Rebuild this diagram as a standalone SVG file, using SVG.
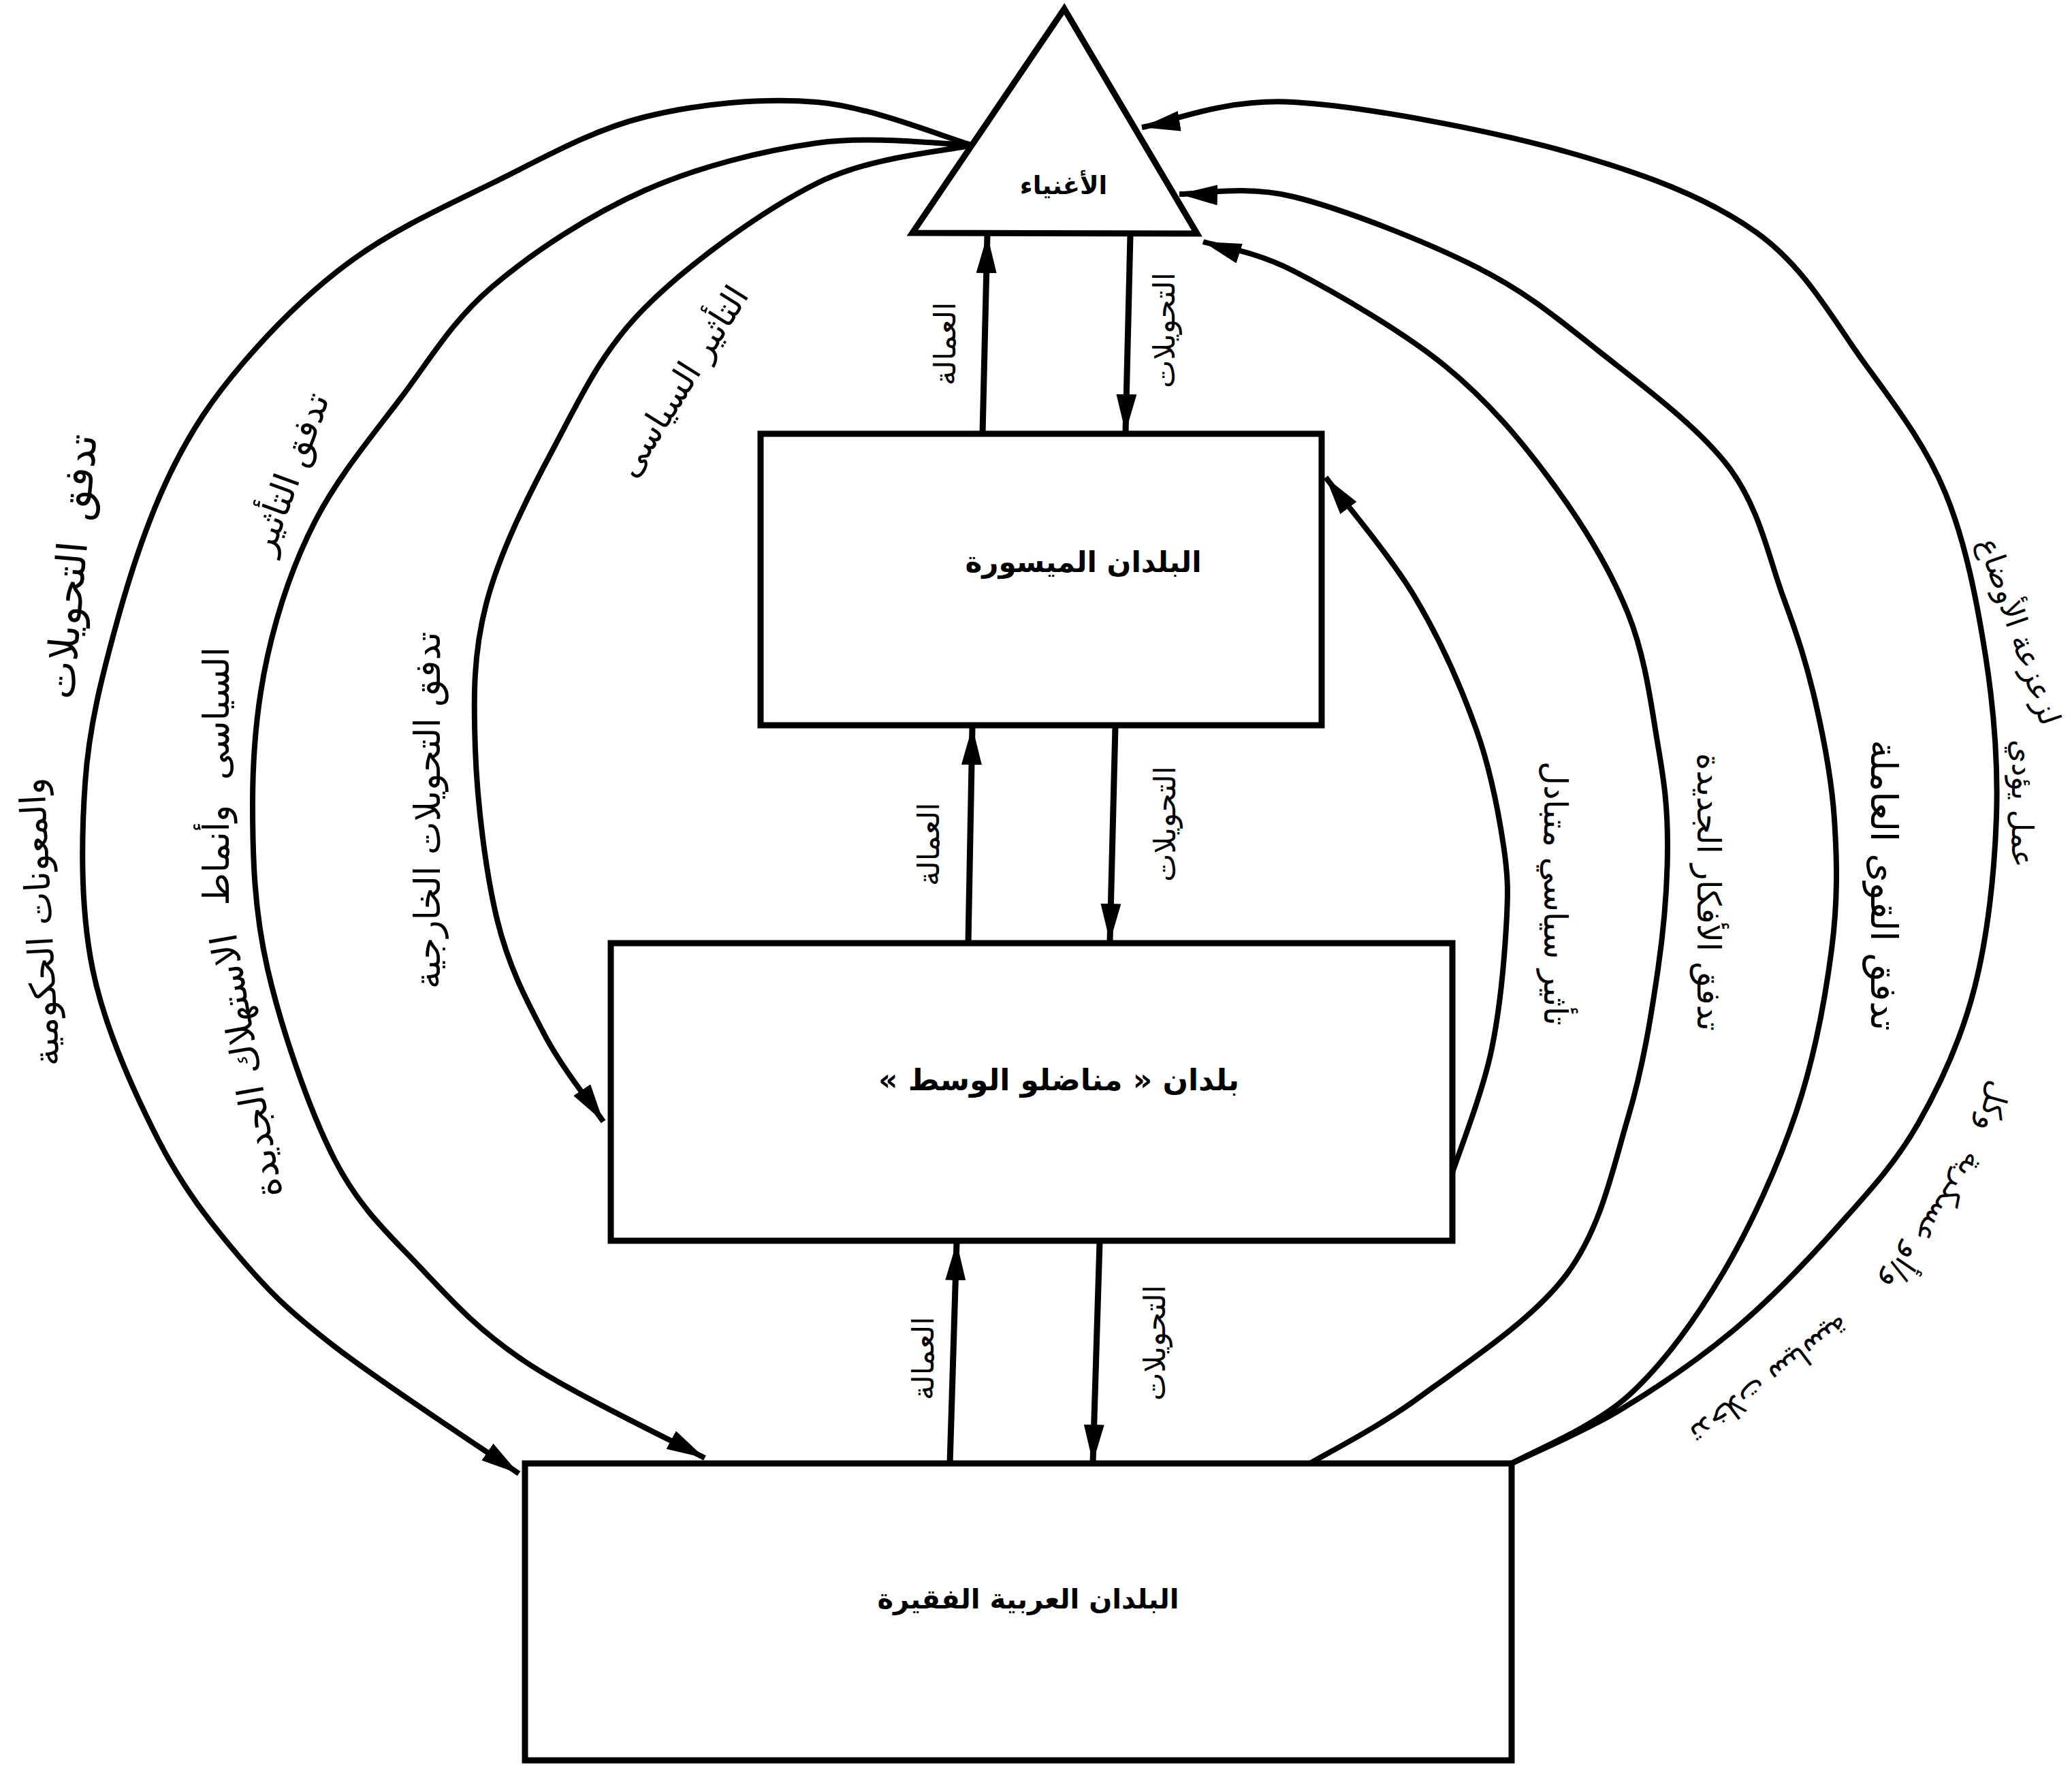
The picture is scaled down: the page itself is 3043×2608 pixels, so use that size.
<svg xmlns="http://www.w3.org/2000/svg" width="3043" height="2608" viewBox="0 0 3043 2608">
<defs>
<style>
.box{fill:#fff;stroke:#000;stroke-width:9;stroke-linejoin:miter}
.cur{fill:none;stroke:#000;stroke-width:8;stroke-linecap:butt}
.vl{fill:none;stroke:#000;stroke-width:9}
text{font-family:"DejaVu Sans",sans-serif;fill:#000;text-anchor:middle;dominant-baseline:central}
.nt{font-size:42px;font-weight:bold}
.lb{font-size:44px}
.cl{font-size:52px}
</style>
<marker id="ah" markerUnits="userSpaceOnUse" markerWidth="60" markerHeight="32" refX="56" refY="15" orient="auto">
<path d="M0,0 L56,15 L0,30 Z" fill="#000"/>
</marker>
</defs>
<rect width="3043" height="2608" fill="#fff"/>
<g id="connectors">
<path class="cur" marker-end="url(#ah)" d="M1427,213 C1389.2,202.5 1280.2,156.8 1200,150 C1119.8,143.2 1025.5,152.2 946,172 C866.5,191.8 794,234.3 723,269 C652,303.7 581,336 520,380 C459,424 402,480.5 357,533 C312,585.5 281,631.2 250,695 C219,758.8 191.8,840.2 171,916 C150.2,991.8 130.8,1065.5 125,1150 C119.2,1234.5 118.2,1335.8 136,1423 C153.8,1510.2 196.2,1602.7 232,1673 C267.8,1743.3 307.8,1794.3 351,1845 C394.2,1895.7 422.5,1923.8 491,1977 C559.5,2030.2 716.8,2132.8 762,2164"/>
<path class="cur" marker-end="url(#ah)" d="M1427,213 C1389.2,212.5 1280.2,198.8 1200,210 C1119.8,221.2 1025.5,244.8 946,280 C866.5,315.2 782.5,370.3 723,421 C663.5,471.7 632.2,527 589,584 C545.8,641 496.7,699.8 464,763 C431.3,826.2 408.5,893.5 393,963 C377.5,1032.5 371,1103.3 371,1180 C371,1256.7 373,1336 393,1423 C413,1510 453.5,1628.8 491,1702 C528.5,1775.2 571.2,1812.3 618,1862 C664.8,1911.7 702.5,1953.5 772,2000 C841.5,2046.5 991.2,2117.5 1035,2141"/>
<path class="cur" marker-end="url(#ah)" d="M1427,213 C1389.2,222.3 1280.2,229 1200,269 C1119.8,309 1010.7,387.8 946,453 C881.3,518.2 850.7,587.7 812,660 C773.3,732.3 733,813.7 714,887 C695,960.3 695.3,1022.8 698,1100 C700.7,1177.2 713,1280 730,1350 C747,1420 774,1470.5 800,1520 C826,1569.5 871.7,1625.8 886,1647"/>
<path class="cur" marker-end="url(#ah)" d="M2220,2149 C2246.7,2135.8 2325,2103.2 2380,2070 C2435,2036.8 2496.7,1995 2550,1950 C2603.3,1905 2655.5,1850 2700,1800 C2744.5,1750 2783.7,1708.3 2817,1650 C2850.3,1591.7 2880.8,1525 2900,1450 C2919.2,1375 2929.3,1281.2 2932,1200 C2934.7,1118.8 2928.5,1042.3 2916,963 C2903.5,883.7 2886.7,795.7 2857,724 C2827.3,652.3 2784.3,596.8 2738,533 C2691.7,469.2 2651.8,392.7 2579,341 C2506.2,289.3 2414.2,254.8 2301,223 C2187.8,191.2 2004,156 1900,150 C1796,144 1714.2,180.8 1677,187"/>
<path class="cur" marker-end="url(#ah)" d="M2220,2149 C2248.5,2132.5 2339.3,2096.5 2391,2050 C2442.7,2003.5 2488.8,1939.5 2530,1870 C2571.2,1800.5 2611.3,1712.3 2638,1633 C2664.7,1553.7 2680.7,1465.7 2690,1394 C2699.3,1322.3 2698,1263.7 2694,1203 C2690,1142.3 2678.5,1084.3 2666,1030 C2653.5,975.7 2640.2,934.3 2619,877 C2597.8,819.7 2584.5,746.5 2539,686 C2493.5,625.5 2407.8,563 2346,514 C2284.2,465 2242.3,429.5 2168,392 C2093.7,354.5 1972.7,306.8 1900,289 C1827.3,271.2 1760,285.7 1732,285"/>
<path class="cur" marker-end="url(#ah)" d="M1924,2149 C1951.2,2132.5 2024.2,2096.3 2087,2050 C2149.8,2003.7 2250.3,1939.2 2301,1871 C2351.7,1802.8 2368.7,1715.7 2391,1641 C2413.3,1566.3 2425.3,1489.7 2435,1423 C2444.7,1356.3 2449,1295.7 2449,1241 C2449,1186.3 2444.7,1151.7 2435,1095 C2425.3,1038.3 2417,965.5 2391,901 C2365,836.5 2323.7,768.5 2279,708 C2234.3,647.5 2186.2,589.7 2123,538 C2059.8,486.3 1959.3,428.5 1900,398 C1840.7,367.5 1789.2,362.2 1767,355"/>
<path class="cur" marker-end="url(#ah)" d="M2132,1725 C2141.7,1695 2176.7,1606.7 2190,1544 C2203.3,1481.3 2209,1412.5 2212,1362 C2215,1311.5 2215.3,1289.5 2208,1241 C2200.7,1192.5 2189.7,1131.7 2168,1071 C2146.3,1010.3 2114.8,938.7 2078,877 C2041.2,815.3 1968.8,730.3 1947,701"/>
<path class="vl" marker-end="url(#ah)" d="M1443,637 L1450,345"/>
<path class="vl" marker-end="url(#ah)" d="M1660,345 L1653,635"/>
<path class="vl" marker-end="url(#ah)" d="M1422,1385 L1428,1067"/>
<path class="vl" marker-end="url(#ah)" d="M1638,1067 L1630,1383"/>
<path class="vl" marker-end="url(#ah)" d="M1395,2150 L1405,1824"/>
<path class="vl" marker-end="url(#ah)" d="M1615,1824 L1605,2148"/>
<text class="lb" direction="rtl" transform="translate(1387,505) rotate(-90)">العمالة</text>
<text class="lb" direction="rtl" transform="translate(1709,485) rotate(-90)">التحويلات</text>
<text class="lb" direction="rtl" transform="translate(1363,1240) rotate(-90)">العمالة</text>
<text class="lb" direction="rtl" transform="translate(1710,1210) rotate(-90)">التحويلات</text>
<text class="lb" direction="rtl" transform="translate(1355,1995) rotate(-90)">العمالة</text>
<text class="lb" direction="rtl" transform="translate(1695,1972) rotate(-90)">التحويلات</text>
<text class="cl" direction="rtl" word-spacing="12" style="font-size:60px" transform="translate(104,832) rotate(-85)">تدفق التحويلات</text>
<text class="cl" direction="rtl" transform="translate(58,1354) rotate(-93)">والمعونات الحكومية</text>
<text class="cl" direction="rtl" transform="translate(425,695) rotate(-70)">تدفق التأثير</text>
<text class="cl" direction="rtl" word-spacing="20" transform="translate(318,1140) rotate(-90)">السياسى وأنماط</text>
<text class="cl" direction="rtl" style="font-size:54px" transform="translate(362,1565) rotate(-100)">الاستهلاك الجديدة</text>
<text class="cl" direction="rtl" style="font-size:50px" transform="translate(1002,560) rotate(-58)">التأثير السياسى</text>
<text class="cl" direction="rtl" transform="translate(628,1190) rotate(-90)">تدفق التحويلات الخارجية</text>
<text class="cl" direction="rtl" style="font-size:48px" transform="translate(2285,1312) rotate(90)">تأثير سياسي متبادل</text>
<text class="cl" direction="rtl" style="font-size:48px" transform="translate(2510,1310) rotate(90)">تدفق الأفكار الجديدة</text>
<text class="cl" direction="rtl" style="font-size:54px" transform="translate(2766,1300) rotate(90)">تدفق القوى العاملة</text>
<text class="cl" direction="rtl" style="font-size:44px" transform="translate(2966,927) rotate(71)">لزعزعة الأوضاع</text>
<text class="cl" direction="rtl" style="font-size:44px" transform="translate(2970,1180) rotate(90)">عمل يؤدي</text>
<text class="cl" direction="rtl" style="font-size:44px" transform="translate(2928,1625) rotate(106)">وكل</text>
<text class="cl" direction="rtl" style="font-size:44px" transform="translate(2840,1795) rotate(124)">و/أو عسكرية</text>
<text class="cl" direction="rtl" style="font-size:44px" transform="translate(2600,2027) rotate(143)">تدخلات سياسية</text>
</g>
<g id="node-rich">
<polygon class="box" points="1563,13 1340,342 1758,343"/>
<text class="nt" direction="rtl" style="font-size:37px" x="1562" y="272">الأغنياء</text>
</g>
<g id="node-affluent">
<rect class="box" x="1117" y="637" width="824" height="428"/>
<text class="nt" direction="rtl" x="1591" y="825">البلدان الميسورة</text>
</g>
<g id="node-middle">
<rect class="box" x="897" y="1385" width="1236" height="437"/>
<text class="nt" direction="rtl" style="font-size:44px" x="1555" y="1585">بلدان « مناضلو الوسط »</text>
</g>
<g id="node-poor">
<rect class="box" x="771" y="2149" width="1449" height="436"/>
<text class="nt" direction="rtl" style="font-size:40px" x="1510" y="2348">البلدان العربية الفقيرة</text>
</g>
</svg>
